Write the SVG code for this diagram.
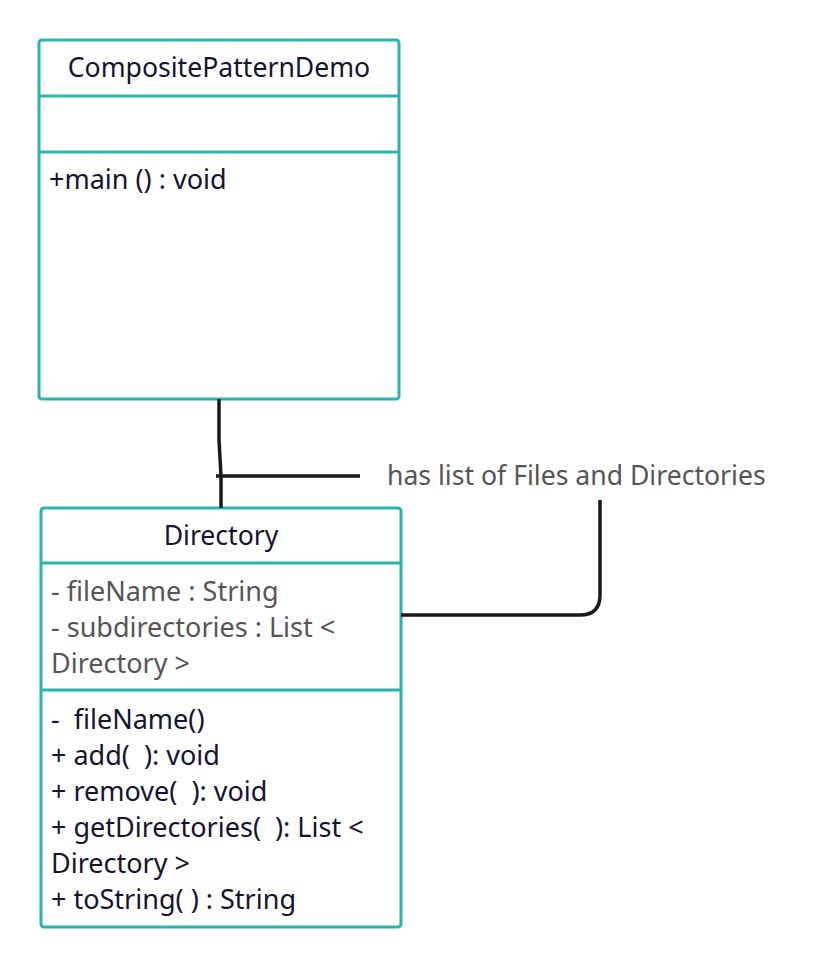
<svg xmlns="http://www.w3.org/2000/svg" width="829" height="968" viewBox="0 0 829 968">
<style>
.box{fill:#fff;stroke:#2bb3ad;stroke-width:3}
.div{stroke:#2bb3ad;stroke-width:3}
.t{font-family:"Noto Sans","Open Sans","Liberation Sans",sans-serif;font-size:26.6px;fill:#14142e;white-space:pre}
.b{font-size:27px}
.g{fill:#555}
.c{text-anchor:middle}
.ln{fill:none;stroke:#1a1a1a;stroke-width:3.5;stroke-linecap:butt}
</style>
<rect width="829" height="968" fill="#fff"/>
<g id="CompositePatternDemo">
<rect class="box" x="39" y="40" width="360" height="359" rx="3"/>
<line class="div" x1="39" y1="96" x2="399" y2="96"/>
<line class="div" x1="39" y1="152" x2="399" y2="152"/>
<text class="t c" x="219" y="77">CompositePatternDemo</text>
<text class="t b" x="49" y="189">+main () : void</text>
</g>
<g id="Directory">
<rect class="box" x="41" y="508" width="360" height="419" rx="3"/>
<line class="div" x1="41" y1="563" x2="401" y2="563"/>
<line class="div" x1="41" y1="690" x2="401" y2="690"/>
<text class="t c" x="221" y="545">Directory</text>
<text class="t b g" x="51" y="601">- fileName : String</text>
<text class="t b g" x="51" y="637">- subdirectories : List &lt;</text>
<text class="t b g" x="51" y="673">Directory &gt;</text>
<text class="t b" x="51" y="729" xml:space="preserve">-  fileName()</text>
<text class="t b" x="51" y="765" xml:space="preserve">+ add(  ): void</text>
<text class="t b" x="51" y="801" xml:space="preserve">+ remove(  ): void</text>
<text class="t b" x="51" y="837" xml:space="preserve">+ getDirectories(  ): List &lt;</text>
<text class="t b" x="51" y="873">Directory &gt;</text>
<text class="t b" x="51" y="909">+ toString( ) : String</text>
</g>
<g id="label">
<text class="t g" x="387" y="485">has list of Files and Directories</text>
</g>
<g id="connectors">
<path class="ln" d="M219 399 L219 440 L221 476 L221 508"/>
<path class="ln" d="M216 476 L360 476"/>
<path class="ln" d="M600 500 L600 595 Q600 615 580 615 L401 615"/>
</g>
</svg>
